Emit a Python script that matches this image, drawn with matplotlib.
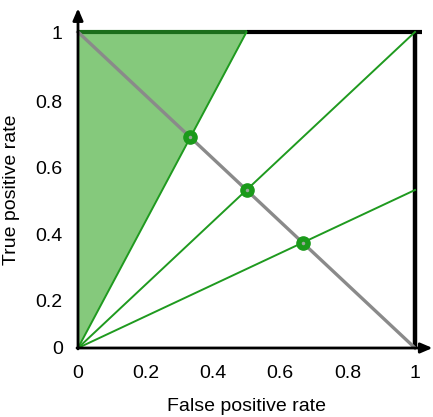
import matplotlib
matplotlib.use("Agg")
import matplotlib.pyplot as plt
import numpy as np

plt.rcParams['font.family'] = ['Liberation Sans', 'DejaVu Sans']

# Data
x_tick_vals = [0, 0.2, 0.4, 0.6, 0.8, 1]
x_tick_labels = ["0", "0.2", "0.4", "0.6", "0.8", "1"]
y_tick_vals = [0, 0.15, 0.36, 0.57, 0.78, 1]
y_tick_labels = ["0", "0.2", "0.4", "0.6", "0.8", "1"]
slopes = [2.0, 1.0, 0.5]
region_x = [0, 0, 0.5]
region_y = [0, 1, 1]
diag_x = [0, 1]
diag_y = [1, 0]

W, H = 433, 417
fig = plt.figure(figsize=(W / 100, H / 100), dpi=100)
ax = fig.add_axes([78 / W, 1 - 348 / H, (415 - 78) / W, (348 - 32) / H])
ax.set_xlim(0, 1)
ax.set_ylim(0, 1)
for s in ax.spines.values():
    s.set_visible(False)

green = "#1f9a1f"
fill_c = "#85c97c"

# shaded region
ax.fill(region_x, region_y, color=fill_c, zorder=1, lw=0, clip_on=False)
ax.plot([0, 0.5], [1, 1], color="#1b6e1b", lw=3, zorder=3, solid_capstyle='butt', clip_on=False)

# lines from origin
for m in slopes:
    xe = min(1.0, 1.0 / m)
    ax.plot([0, xe], [0, m * xe], color=green, lw=1.4, zorder=4, clip_on=False)

# gray diagonal
ax.plot(diag_x, diag_y, color="#8a8a8a", lw=2.4, zorder=5, clip_on=False)

# intersection points
for m in slopes:
    xi = 1.0 / (1.0 + m)
    yi = m * xi
    ax.plot([xi], [yi], marker='o', ms=9.5, color="#1a9a1a", mec="#1a9a1a", zorder=6)
    ax.plot([xi], [yi], marker='o', ms=2.5, color="#9aa89a", mec="none", zorder=7)

# borders
ax.plot([0.5, 1.02], [1, 1], color="black", lw=3, zorder=3, clip_on=False, solid_capstyle='butt')
ax.plot([1, 1], [0, 1], color="black", lw=3.2, zorder=3, clip_on=False, solid_capstyle='butt')

# axes with arrows
ax.annotate("", xy=(0, 1.075), xytext=(0, -0.003), xycoords='data',
            arrowprops=dict(arrowstyle="-|>,head_length=0.7,head_width=0.3", color="black", lw=2,
                            shrinkA=0, shrinkB=0), annotation_clip=False, zorder=8)
ax.annotate("", xy=(1.052, 0), xytext=(-0.003, 0), xycoords='data',
            arrowprops=dict(arrowstyle="-|>,head_length=0.7,head_width=0.3", color="black", lw=2,
                            shrinkA=0, shrinkB=0), annotation_clip=False, zorder=8)

ax.set_xticks(x_tick_vals)
ax.set_xticklabels(x_tick_labels, fontsize=14)
ax.set_yticks(y_tick_vals)
ax.set_yticklabels(y_tick_labels, fontsize=14)
ax.tick_params(axis='both', length=0)
ax.tick_params(axis='x', pad=12)
ax.tick_params(axis='y', pad=11)

ax.set_xlabel("False positive rate", fontsize=14, labelpad=12)
ax.set_ylabel("True positive rate", fontsize=14, labelpad=11)

fig.savefig("out.png", dpi=100)
